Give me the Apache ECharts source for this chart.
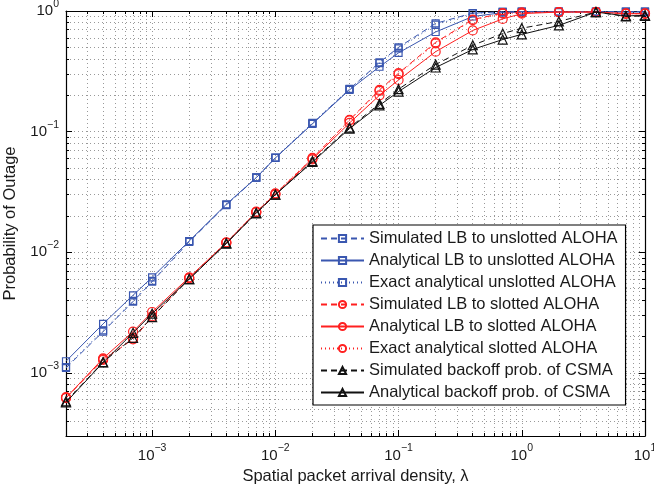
<!DOCTYPE html>
<html><head><meta charset="utf-8">
<script src="https://cdn.jsdelivr.net/npm/echarts@6/dist/echarts.min.js"></script>
<style>html,body{margin:0;padding:0;background:#fff}#c{width:654px;height:487px}</style>
</head><body><div id="c"></div>
<script>
// ---- data ----
const lambda = [2e-4, 4e-4, 7e-4, 1e-3, 2e-3, 4e-3, 7e-3, 1e-2, 2e-2, 4e-2, 7e-2, 0.1, 0.2, 0.4, 0.7, 1, 2, 4, 7, 10];

const unslottedSim   = [1.1e-3, 2.2e-3, 3.9e-3, 5.7e-3, 1.22e-2, 2.46e-2, 4.15e-2, 6.05e-2, 0.117, 0.225, 0.375, 0.50, 0.79, 0.96, 0.985, 0.99, 0.99, 0.99, 0.99, 0.99];
const unslottedAna   = [1.25e-3, 2.55e-3, 4.4e-3, 6.2e-3, 1.24e-2, 2.5e-2, 4.15e-2, 6.05e-2, 0.116, 0.222, 0.345, 0.45, 0.67, 0.90, 0.97, 0.98, 0.98, 0.98, 0.98, 0.98];
const unslottedExact = [1.12e-3, 2.25e-3, 3.95e-3, 5.8e-3, 1.23e-2, 2.47e-2, 4.18e-2, 6.1e-2, 0.118, 0.226, 0.37, 0.49, 0.77, 0.955, 0.985, 0.99, 0.99, 0.99, 0.99, 0.99];

const slottedSim   = [6.2e-4, 1.28e-3, 1.9e-3, 2.9e-3, 6.1e-3, 1.2e-2, 2.15e-2, 3.05e-2, 6.0e-2, 0.125, 0.222, 0.305, 0.55, 0.85, 0.96, 0.97, 0.98, 0.98, 0.95, 0.95];
const slottedAna   = [6.2e-4, 1.32e-3, 2.2e-3, 3.2e-3, 6.2e-3, 1.2e-2, 2.15e-2, 3.0e-2, 5.9e-2, 0.118, 0.20, 0.268, 0.46, 0.69, 0.86, 0.95, 0.98, 0.98, 0.95, 0.95];
const slottedExact = [6.3e-4, 1.3e-3, 1.95e-3, 2.95e-3, 6.1e-3, 1.21e-2, 2.17e-2, 3.08e-2, 6.05e-2, 0.124, 0.218, 0.30, 0.54, 0.84, 0.95, 0.97, 0.98, 0.98, 0.95, 0.95];

const csmaSim = [5.8e-4, 1.23e-3, 1.95e-3, 2.9e-3, 6.0e-3, 1.19e-2, 2.1e-2, 3.0e-2, 5.7e-2, 0.108, 0.17, 0.225, 0.36, 0.52, 0.65, 0.72, 0.82, 0.98, 0.90, 0.91];
const csmaAna = [5.7e-4, 1.22e-3, 2.15e-3, 3.1e-3, 6.0e-3, 1.18e-2, 2.12e-2, 3.0e-2, 5.6e-2, 0.106, 0.165, 0.215, 0.34, 0.48, 0.58, 0.64, 0.76, 0.98, 0.91, 0.92];

const seriesNames = [
  'Simulated LB to unslotted ALOHA',
  'Analytical LB to unslotted ALOHA',
  'Exact analytical unslotted ALOHA',
  'Simulated LB to slotted ALOHA',
  'Analytical LB to slotted ALOHA',
  'Exact analytical slotted ALOHA',
  'Simulated backoff prob. of CSMA',
  'Analytical backoff prob. of CSMA'
];
const seriesValues = [unslottedSim, unslottedAna, unslottedExact, slottedSim, slottedAna, slottedExact, csmaSim, csmaAna];

const xTickLabels = [1e-3, 1e-2, 1e-1, 1, 10];
const yTickLabels = [1e-3, 1e-2, 1e-1, 1];
const xRange = [2e-4, 10];
const yRange = [3e-4, 1];
const xTitle = 'Spatial packet arrival density, \u03bb';
const yTitle = 'Probability of Outage';

// ---- styling ----
const FONT = 'Liberation Sans, Arial, Helvetica, sans-serif';
const BLUE = '#3a57b0', RED = '#ff2020', BLACK = '#111111';
const styles = [
  {c: BLUE, t: [6, 4], s: 'rect'},
  {c: BLUE, t: 'solid', s: 'rect'},
  {c: BLUE, t: [1, 3], s: 'rect'},
  {c: RED, t: [6, 4], s: 'circle'},
  {c: RED, t: 'solid', s: 'circle'},
  {c: RED, t: [1, 3], s: 'circle'},
  {c: BLACK, t: [6, 4], s: 'triangle'},
  {c: BLACK, t: 'solid', s: 'triangle'}
];

function minorValues(lo, hi) {
  const out = [];
  for (let e = Math.floor(Math.log10(lo)); e <= Math.ceil(Math.log10(hi)); e++) {
    for (let k = 2; k <= 9; k++) {
      const v = k * Math.pow(10, e);
      if (v >= lo * 0.9999 && v <= hi * 1.0001) out.push(v);
    }
  }
  return out;
}
function majorValues(lo, hi) {
  const out = [];
  for (let e = Math.ceil(Math.log10(lo) - 1e-9); e <= Math.floor(Math.log10(hi) + 1e-9); e++) out.push(Math.pow(10, e));
  return out;
}

function labelFmt(v) {
  const l = Math.log10(v);
  const e = Math.round(l);
  if (Math.abs(l - e) > 1e-6) return '';
  return '{b|10}{s|' + (e < 0 ? '\u2212' : '') + Math.abs(e) + '}';
}
const rich = {
  b: {fontSize: 15, fontFamily: FONT, color: '#1a1a1a'},
  s: {fontSize: 10.5, fontFamily: FONT, color: '#1a1a1a', padding: [0, 0, 14, 0]}
};
const gridLine = {show: true, lineStyle: {color: '#999', width: 1, type: [1, 3]}};

function makeAxes(dim, range, labels) {
  const isX = dim === 'x';
  const major = majorValues(range[0], range[1]);
  const minor = minorValues(range[0], range[1]);
  const base = {type: 'log', logBase: 10, min: range[0], max: range[1], silent: true,
    minorTick: {show: false}, minorSplitLine: {show: false}, axisPointer: {show: false}};
  const posA = isX ? 'bottom' : 'left', posB = isX ? 'top' : 'right';
  return [
    Object.assign({}, base, {position: posA,
      axisLine: {show: true, onZero: false, lineStyle: {color: '#000', width: 1.2}},
      axisTick: {show: true, inside: true, length: 6, customValues: major, lineStyle: {color: '#000', width: 1}},
      axisLabel: {show: true, customValues: labels, formatter: labelFmt, rich: rich, margin: 7,
        hideOverlap: false, showMinLabel: true, showMaxLabel: true},
      splitLine: gridLine,
      name: isX ? xTitle : yTitle, nameLocation: 'middle', nameGap: isX ? 23 : 33,
      nameTextStyle: {fontSize: 16.5, fontFamily: FONT, color: '#1a1a1a'}
    }),
    Object.assign({}, base, {position: posA,
      axisLine: {show: false},
      axisTick: {show: true, inside: true, length: 3, customValues: minor, lineStyle: {color: '#000', width: 1}},
      axisLabel: {show: false},
      splitLine: gridLine
    }),
    Object.assign({}, base, {position: posB,
      axisLine: {show: true, onZero: false, lineStyle: {color: '#000', width: 1.2}},
      axisTick: {show: true, inside: true, length: 6, customValues: major, lineStyle: {color: '#000', width: 1}},
      axisLabel: {show: false}, splitLine: {show: false}
    }),
    Object.assign({}, base, {position: posB,
      axisLine: {show: false},
      axisTick: {show: true, inside: true, length: 3, customValues: minor, lineStyle: {color: '#000', width: 1}},
      axisLabel: {show: false}, splitLine: {show: false}
    })
  ];
}

const series = seriesNames.map((name, i) => {
  const st = styles[i];
  const size = st.s === 'rect' ? 7 : 9;
  return {
    name: name, type: 'line', xAxisIndex: 0, yAxisIndex: 0,
    data: lambda.map((x, j) => [x, seriesValues[i][j]]),
    symbol: st.s, symbolSize: size, showAllSymbol: true, clip: false,
    lineStyle: {color: st.c, width: 1, type: st.t},
    itemStyle: {color: 'rgba(255,255,255,0)', borderColor: st.c, borderWidth: 1.2},
    emphasis: {disabled: true}, animation: false, z: 3 + i
  };
});

const chart = echarts.init(document.getElementById('c'), null, {renderer: 'canvas'});
chart.setOption({
  animation: false,
  backgroundColor: '#fff',
  grid: {left: 66, right: 9, top: 11, bottom: 51, containLabel: false, outerBoundsMode: 'none'},
  xAxis: makeAxes('x', xRange, xTickLabels),
  yAxis: makeAxes('y', yRange, yTickLabels),
  legend: {
    show: true, selectedMode: false, orient: 'vertical',
    left: 313, top: 225,
    itemWidth: 43, itemHeight: 9, itemGap: 5,
    padding: [5, 8, 4, 7],
    backgroundColor: '#fff', borderColor: '#000', borderWidth: 1.2, borderRadius: 0,
    textStyle: {fontSize: 16.5, lineHeight: 17, fontFamily: FONT, color: '#1a1a1a'},
    data: seriesNames
  },
  series: series
});
</script></body></html>
